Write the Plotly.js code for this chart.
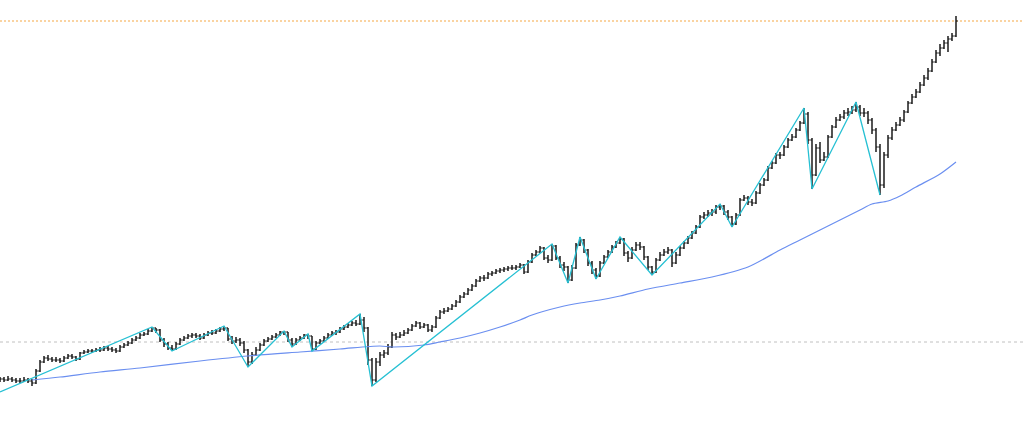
<!DOCTYPE html>
<html>
<head>
<meta charset="utf-8">
<script src="https://cdn.plot.ly/plotly-3.0.1.min.js"></script>
<style>html,body{margin:0;padding:0;background:#fff;}#chart{width:1024px;height:425px;}</style>
</head>
<body>
<div id="chart"></div>
<script>
// OHLC bars (one bar per period, index 0..239)
const openP = [2190,2210,2200,2210,2200,2190,2190,2200,2190,2170,2290,2380,2420,2410,2400,2400,2390,2420,2440,2430,
2410,2470,2480,2490,2490,2500,2500,2520,2510,2500,2490,2530,2550,2570,2600,2620,2650,2660,2690,2720,
2700,2600,2560,2520,2510,2560,2600,2620,2640,2650,2640,2620,2650,2670,2670,2690,2710,2720,2610,2590,
2600,2570,2500,2380,2450,2500,2550,2590,2610,2630,2650,2680,2680,2600,2560,2600,2620,2650,2640,2510,
2570,2590,2620,2650,2670,2680,2710,2730,2750,2770,2760,2800,2720,2400,2200,2380,2450,2470,2530,2650,
2630,2650,2670,2700,2740,2770,2730,2750,2700,2730,2820,2880,2890,2910,2940,2980,3030,3060,3100,3140,
3190,3220,3220,3260,3270,3290,3300,3310,3320,3320,3330,3350,3280,3380,3450,3480,3520,3420,3400,3540,
3420,3350,3330,3200,3320,3550,3600,3500,3370,3300,3240,3370,3430,3480,3530,3570,3610,3470,3420,3500,
3550,3530,3430,3330,3280,3400,3450,3480,3500,3370,3450,3520,3570,3620,3670,3730,3830,3850,3870,3880,
3930,3940,3880,3830,3760,3850,4000,4020,3980,3970,4070,4150,4200,4320,4370,4450,4450,4530,4600,4630,
4700,4770,4860,4600,4250,4520,4400,4430,4630,4730,4800,4830,4870,4880,4900,4930,4870,4870,4800,4700,
4530,4150,4450,4620,4700,4750,4800,4880,4970,5030,5080,5150,5220,5290,5380,5470,5520,5570,5610,5640];
const highP = [2230,2230,2240,2230,2220,2220,2230,2220,2210,2310,2400,2440,2450,2430,2430,2420,2440,2460,2460,2440,
2480,2500,2510,2510,2520,2530,2540,2540,2530,2520,2550,2570,2590,2620,2640,2670,2680,2710,2730,2720,
2710,2620,2580,2550,2580,2620,2640,2660,2670,2670,2660,2670,2690,2700,2710,2730,2740,2720,2640,2630,
2620,2590,2510,2480,2530,2570,2610,2630,2650,2670,2690,2690,2680,2620,2620,2640,2660,2660,2640,2590,
2610,2640,2670,2690,2700,2730,2750,2770,2790,2800,2860,2830,2730,2420,2420,2480,2500,2560,2680,2670,
2680,2700,2720,2760,2790,2780,2770,2760,2750,2840,2900,2920,2930,2960,3000,3050,3080,3120,3160,3210,
3240,3250,3280,3290,3310,3320,3330,3340,3350,3350,3370,3360,3400,3470,3500,3540,3530,3450,3560,3550,
3440,3380,3340,3350,3570,3630,3610,3510,3390,3320,3390,3450,3500,3550,3590,3630,3620,3490,3530,3580,
3580,3540,3440,3340,3420,3480,3510,3530,3510,3480,3540,3590,3640,3690,3750,3850,3880,3900,3910,3950,
3960,3950,3900,3840,3870,4020,4050,4040,4010,4090,4170,4220,4340,4390,4470,4480,4550,4620,4660,4720,
4790,4920,4880,4620,4560,4580,4480,4650,4750,4830,4860,4900,4920,4940,4980,4950,4920,4890,4820,4720,
4560,4480,4650,4730,4780,4830,4900,4990,5060,5110,5180,5250,5320,5410,5500,5560,5600,5640,5670,5840];
const lowP = [2180,2180,2190,2180,2170,2170,2180,2170,2140,2160,2280,2370,2390,2380,2380,2370,2380,2410,2410,2390,
2400,2460,2470,2470,2480,2480,2490,2490,2480,2470,2480,2520,2540,2560,2590,2610,2640,2650,2680,2670,
2580,2530,2500,2490,2500,2550,2590,2610,2620,2620,2600,2610,2640,2650,2660,2680,2690,2590,2560,2570,
2540,2470,2330,2360,2440,2490,2540,2580,2600,2620,2640,2650,2580,2530,2550,2590,2610,2610,2490,2500,
2560,2580,2610,2640,2650,2670,2700,2720,2740,2740,2750,2680,2350,2140,2180,2340,2420,2450,2520,2600,
2620,2640,2660,2690,2730,2710,2720,2680,2680,2720,2810,2860,2880,2900,2930,2970,3020,3050,3090,3130,
3180,3190,3210,3240,3260,3270,3280,3290,3300,3300,3320,3260,3270,3370,3440,3470,3400,3370,3390,3400,
3320,3290,3170,3190,3310,3540,3470,3340,3260,3210,3230,3360,3420,3470,3520,3560,3440,3380,3410,3490,
3500,3400,3300,3250,3270,3390,3440,3460,3330,3360,3440,3510,3560,3610,3660,3720,3810,3830,3840,3860,
3900,3850,3800,3730,3750,3840,3990,3950,3940,3960,4060,4140,4190,4310,4360,4410,4440,4520,4590,4620,
4690,4760,4560,4110,4240,4370,4390,4420,4620,4720,4790,4810,4840,4860,4880,4840,4830,4760,4660,4480,
4050,4120,4420,4600,4690,4740,4780,4870,4960,5020,5070,5140,5200,5280,5370,5440,5510,5480,5590,5630];
const closeP = [2210,2200,2210,2200,2190,2190,2200,2190,2170,2290,2380,2420,2410,2400,2400,2390,2420,2440,2430,2410,
2470,2480,2490,2490,2500,2500,2520,2510,2500,2490,2530,2550,2570,2600,2620,2650,2660,2690,2720,2700,
2600,2560,2520,2510,2560,2600,2620,2640,2650,2640,2620,2650,2670,2670,2690,2710,2720,2610,2590,2600,
2570,2500,2380,2450,2500,2550,2590,2610,2630,2650,2680,2680,2600,2560,2600,2620,2650,2640,2510,2570,
2590,2620,2650,2670,2680,2710,2730,2750,2770,2760,2800,2720,2400,2200,2380,2450,2470,2530,2650,2630,
2650,2670,2700,2740,2770,2730,2750,2700,2730,2820,2880,2890,2910,2940,2980,3030,3060,3100,3140,3190,
3220,3220,3260,3270,3290,3300,3310,3320,3320,3330,3350,3280,3380,3450,3480,3520,3420,3400,3540,3420,
3350,3330,3200,3320,3550,3600,3500,3370,3300,3240,3370,3430,3480,3530,3570,3610,3470,3420,3500,3550,
3530,3430,3330,3280,3400,3450,3480,3500,3370,3450,3520,3570,3620,3670,3730,3830,3850,3870,3880,3930,
3940,3880,3830,3760,3850,4000,4020,3980,3970,4070,4150,4200,4320,4370,4450,4450,4530,4600,4630,4700,
4770,4860,4600,4250,4520,4400,4430,4630,4730,4800,4830,4870,4880,4900,4930,4870,4870,4800,4700,4530,
4150,4450,4620,4700,4750,4800,4880,4970,5030,5080,5150,5220,5290,5380,5470,5520,5570,5610,5640,5790];

// Zigzag swing points (bar index, price)
const zigIdx = [0,38,43,56,62,71,73,77,78,90,93,138,142,145,149,155,163,180,183,201,203,214,220];
const zigVal = [2080,2730,2490,2740,2330,2690,2530,2660,2490,2860,2140,3560,3170,3630,3210,3630,3250,3960,3730,4920,4110,4980,4050];

// Long moving average (bar index, value)
const maIdx = [8,15,25,35,50,62,75,85,95,98,106,110,115,120,125,130,133,140,145,150,155,162,170,178,187,195,200,205,210,215,218,222,225,229,235,239];
const maVal = [2200,2230,2280,2320,2390,2440,2480,2510,2540,2530,2550,2580,2620,2670,2730,2800,2850,2930,2970,3000,3040,3110,3170,3230,3330,3500,3600,3700,3800,3900,3960,3990,4040,4130,4260,4380];

// Reference levels
const lastLevel = 5790;
const baseLevel = 2580;

const barIdx = closeP.map((_, i) => i);

const traces = [
  {type:'scatter', mode:'lines', x:maIdx, y:maVal, line:{color:'#6b8ff0', width:1.2, shape:'spline', smoothing:0.8}, hoverinfo:'skip'},
  {type:'ohlc', x:barIdx, open:openP, high:highP, low:lowP, close:closeP,
   increasing:{line:{color:'#2a2a2a', width:1.6}}, decreasing:{line:{color:'#2a2a2a', width:1.6}},
   tickwidth:0.4, hoverinfo:'skip'},
  {type:'scatter', mode:'lines', x:zigIdx, y:zigVal, line:{color:'#26c0d3', width:1.3}, hoverinfo:'skip'}
];

const layout = {
  width:1024, height:425,
  margin:{l:0,r:0,t:0,b:0},
  paper_bgcolor:'#ffffff', plot_bgcolor:'#ffffff',
  showlegend:false,
  xaxis:{range:[0,256], visible:false, showgrid:false, zeroline:false, rangeslider:{visible:false}, fixedrange:true},
  yaxis:{range:[1750,6000], visible:false, showgrid:false, zeroline:false, fixedrange:true},
  shapes:[
    {type:'line', xref:'paper', x0:0, x1:1, yref:'y', y0:lastLevel, y1:lastLevel, layer:'below', line:{color:'#f5a742', width:1, dash:'2px,2px'}},
    {type:'line', xref:'paper', x0:0, x1:1, yref:'y', y0:baseLevel, y1:baseLevel, layer:'below', line:{color:'#c0c0c0', width:1, dash:'3px,3px'}}
  ]
};

Plotly.newPlot('chart', traces, layout, {staticPlot:true, displayModeBar:false});
</script>
</body>
</html>
